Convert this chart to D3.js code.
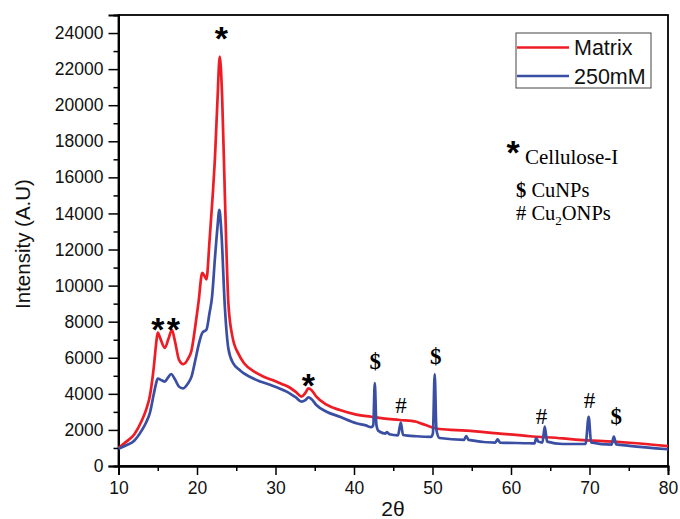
<!DOCTYPE html>
<html><head><meta charset="utf-8">
<script src="https://cdn.jsdelivr.net/npm/d3@7"></script>
<style>body{margin:0;background:#fff}svg{display:block}</style>
</head><body>
<script>
// Data (2θ in degrees, intensity in A.U.)
const matrixX = [10,11,12,13,13.5,14,14.5,14.8,15.0,15.3,15.9,16.4,16.8,17.2,17.7,18.25,18.8,19.3,19.8,20.2,20.67,21.0,21.2,21.6,22.0,22.3,22.6,22.9,23.2,23.55,24.0,24.5,25.3,26.0,27.4,28.5,29.7,30.8,31.8,32.6,33.3,33.8,34.2,34.6,35.2,36.5,38.2,40.3,42.2,43.7,45.8,47.95,48.6,49.9,50.9,54.3,58.3,62.4,66.6,68.7,73.1,75.1,80];
const matrixY = [1000,1350,1750,2550,3100,3900,5500,6800,7400,7100,6550,7100,7550,6900,5900,5650,5900,6400,7800,9100,10700,10500,10350,12500,15000,17200,20200,22700,20500,15000,9000,7200,6200,5700,5200,4950,4750,4550,4350,4100,3850,4050,4300,4200,3850,3400,3100,2850,2730,2640,2550,2450,2350,2150,2050,1960,1810,1650,1530,1450,1350,1290,1100];
const sampleX = [10,11,12,13,13.5,14,14.5,14.8,15.0,15.5,15.9,16.3,16.7,17.2,17.7,18.2,18.8,19.3,19.8,20.2,20.7,21.2,21.6,21.9,22.3,22.6,22.85,23.1,23.55,24.0,24.6,25.5,27.4,29.7,31.8,32.6,33.3,33.8,34.2,34.6,35.2,36.5,38.2,40.3,41.5,42.2,42.45,42.65,42.85,43.1,43.7,44.0,44.2,44.5,45.6,45.96,46.25,47.95,49.8,50.05,50.28,50.5,50.9,54.0,54.3,54.6,58.0,58.3,58.6,62.4,63.0,63.2,63.5,64.0,64.3,64.6,66.6,69.5,69.9,70.2,72.8,73.1,73.4,75.1,80];
const sampleY = [950,1150,1400,2000,2400,2950,4000,4600,4850,4750,4680,4900,5100,4800,4400,4300,4550,4950,5900,6700,7400,7550,8500,9300,11600,13200,14200,13000,8800,6500,5700,5300,4800,4440,4030,3800,3570,3650,3800,3700,3380,3010,2730,2370,2250,2150,2250,4600,2300,1950,1820,1800,1880,1760,1700,2400,1720,1650,1620,1800,5100,2000,1550,1450,1660,1450,1300,1480,1300,1260,1250,1550,1350,1300,2180,1350,1220,1230,2730,1300,1180,1630,1200,1120,930];
const seriesNames = ["Matrix","250mM"];
const yTicks = [0,2000,4000,6000,8000,10000,12000,14000,16000,18000,20000,22000,24000];
const xTicks = [10,20,30,40,50,60,70,80];
// Peak annotations: [2θ, intensity position, symbol]
const peakMarks = [[15.0,8000,"*"],[17.0,8000,"*"],[23.1,24100,"*"],[34.2,4900,"*"],[42.7,5800,"$"],[50.4,6100,"$"],[46.0,3400,"#"],[63.9,2750,"#"],[70.0,3650,"#"],[73.4,2750,"$"]];

const W=680,H=519;
const m={l:118.5,r:668,t:15,b:466};
const svg=d3.select("body").append("svg").attr("width",W).attr("height",H);
const x=d3.scaleLinear().domain([10,80]).range([m.l,m.r]);
const y=d3.scaleLinear().domain([0,25000]).range([m.b,m.t]);
const sans="'Liberation Sans', Arial, sans-serif";
const serif="'Liberation Serif', 'Times New Roman', serif";

// frame
svg.append("rect").attr("x",m.l).attr("y",m.t).attr("width",m.r-m.l).attr("height",m.b-m.t)
  .attr("fill","none").attr("stroke","#000").attr("stroke-width",1.8);

// axes
const ax=svg.append("g").attr("transform",`translate(0,${m.b})`)
  .call(d3.axisBottom(x).tickValues(xTicks).tickSize(9).tickPadding(7).tickFormat(d3.format("d")));
const axm=svg.append("g").attr("transform",`translate(0,${m.b})`)
  .call(d3.axisBottom(x).tickValues(d3.range(15,80,10)).tickSize(5).tickFormat(""));
const ay=svg.append("g").attr("transform",`translate(${m.l},0)`)
  .call(d3.axisLeft(y).tickValues(yTicks).tickSize(10).tickPadding(5).tickFormat(d3.format("d")));
const aym=svg.append("g").attr("transform",`translate(${m.l},0)`)
  .call(d3.axisLeft(y).tickValues(d3.range(1000,25000,2000)).tickSize(5).tickFormat(""));
[ax,axm,ay,aym].forEach(g=>{
  g.select(".domain").attr("stroke-width",1.8);
  g.selectAll(".tick line").attr("stroke-width",1.5);
  g.selectAll("text").attr("font-family",sans).attr("font-size",17.5).attr("fill","#111");
});

// lines
const line=d3.line().x(d=>x(d[0])).y(d=>y(d[1])).curve(d3.curveMonotoneX);
const colors=["#ee1c25","#3a4fa3"];
const dataM=matrixX.map((v,i)=>[v,matrixY[i]]);
const dataS=sampleX.map((v,i)=>[v,sampleY[i]]);
svg.append("path").datum(dataM).attr("d",line).attr("fill","none").attr("stroke",colors[0]).attr("stroke-width",2.7).attr("stroke-linejoin","round");
svg.append("path").datum(dataS).attr("d",line).attr("fill","none").attr("stroke",colors[1]).attr("stroke-width",2.7).attr("stroke-linejoin","round");

// peak annotations
peakMarks.forEach(p=>{
  const t=svg.append("text").attr("x",x(p[0])).attr("text-anchor","middle").attr("fill","#000");
  if(p[2]==="*"){
    t.attr("y",y(p[1])+19).attr("font-family",sans).attr("font-weight","bold").attr("font-size",34).text("*");
  } else if(p[2]==="$"){
    t.attr("y",y(p[1])+8).attr("font-family",serif).attr("font-weight","bold").attr("font-size",23).text("$");
  } else {
    t.attr("y",y(p[1])+8).attr("font-family",serif).attr("font-size",23).text("#");
  }
});

// axis titles
svg.append("text").attr("transform","translate(30,244) rotate(-90)").attr("text-anchor","middle")
  .attr("font-family",sans).attr("font-size",20.5).attr("fill","#111").text("Intensity (A.U)");
svg.append("text").attr("x",393).attr("y",516).attr("text-anchor","middle")
  .attr("font-family",sans).attr("font-size",21).attr("fill","#111").text("2θ");

// legend
const lg=svg.append("g");
lg.append("rect").attr("x",516).attr("y",33).attr("width",135).attr("height",55)
  .attr("fill","#fff").attr("stroke","#444").attr("stroke-width",1);
seriesNames.forEach((n,i)=>{
  const yy=47.5+i*28.5;
  lg.append("line").attr("x1",517).attr("x2",569).attr("y1",yy).attr("y2",yy).attr("stroke",colors[i]).attr("stroke-width",2.4);
  lg.append("text").attr("x",574).attr("y",yy+7.5).attr("font-family",sans).attr("font-size",21.5).attr("fill","#111").text(n);
});

// symbol key
const key=svg.append("g").attr("font-family",serif).attr("fill","#000");
key.append("text").attr("x",513).attr("y",164).attr("text-anchor","middle").attr("font-family",sans).attr("font-weight","bold").attr("font-size",34).text("*");
key.append("text").attr("x",525).attr("y",164).attr("font-size",21).text("Cellulose-I");
const k2=key.append("text").attr("x",516).attr("y",197).attr("font-size",20.5);
k2.append("tspan").attr("font-weight","bold").text("$");
k2.append("tspan").text(" CuNPs");
const k3=key.append("text").attr("x",516).attr("y",220).attr("font-size",20.5);
k3.append("tspan").text("# Cu");
k3.append("tspan").attr("font-size",13).attr("dy",5).text("2");
k3.append("tspan").attr("dy",-5).text("ONPs");
</script>
</body></html>
